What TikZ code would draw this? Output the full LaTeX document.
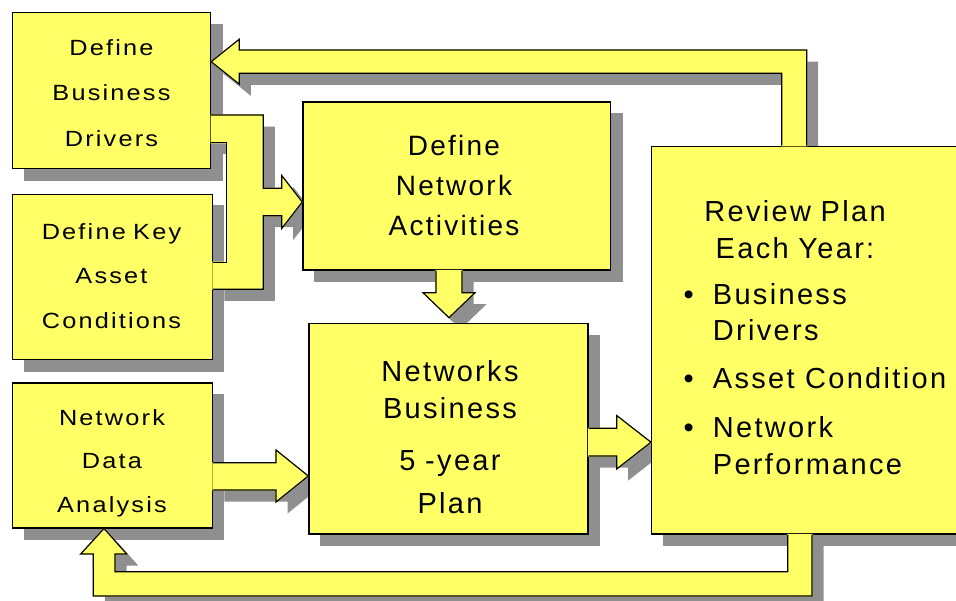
\documentclass[tikz,border=0pt]{standalone}
\usepackage{fontspec}
\setmainfont{Liberation Sans}
\newfontfamily\smallboxfont[LetterSpace=10,FakeStretch=1.15]{Liberation Sans}
\newfontfamily\bigboxfont[LetterSpace=8]{Liberation Sans}

\pgfdeclarelayer{shadows}
\pgfsetlayers{shadows,main}

\definecolor{padyellow}{HTML}{FFFF66}
\definecolor{padshadow}{HTML}{8F8F8F}

\tikzset{
  box/.style={draw=black, line width=1.2pt, fill=padyellow, anchor=north west,
    inner sep=0pt},
  outline/.style={draw=black, line width=1.2pt, line join=miter},
  smalltext/.style={font={\smallboxfont\fontsize{22}{#1}\selectfont},
    align=center, text width=196pt, inner sep=0pt, anchor=base},
  bigtext/.style={font={\bigboxfont\fontsize{28}{#1}\selectfont},
    align=center, text width=300pt, inner sep=0pt, anchor=base},
  hugetext/.style={font={\bigboxfont\fontsize{29}{#1}\selectfont},
    align=center, text width=280pt, inner sep=0pt, anchor=base},
  dropshift/.style={transform canvas={shift={(11.5pt,-11.5pt)}}},
}

% block arrow: #1 is the stroked outline, #2 closes the filled area
\newcommand\blockarrow[2]{%
  \begin{pgfonlayer}{shadows}
    \fill[padshadow, dropshift] #1 #2 -- cycle;
  \end{pgfonlayer}
  \fill[padyellow, draw=padyellow, line width=1.2pt] #1 #2 -- cycle;
  \draw[outline] #1;
}

\begin{document}
\begin{tikzpicture}[x=1pt,y=-1pt]
\useasboundingbox (0,0) rectangle (956,600);
\clip (0,0) rectangle (956,600);

% boxes
\node[box, minimum width=198pt, minimum height=156pt] (bd) at (12,12) {};
\node[box, minimum width=199.7pt, minimum height=165.5pt] (ak) at (12,193.5) {};
\node[box, minimum width=199.7pt, minimum height=145pt] (na) at (12,382.3) {};
\node[box, minimum width=307.7pt, minimum height=168pt] (da) at (302.3,101.3) {};
\node[box, minimum width=279pt, minimum height=210.3pt] (bp) at (308.3,323) {};
\node[box, minimum width=330pt, minimum height=387.6pt] (rv) at (651,145.7) {};

% box shadows
\begin{pgfonlayer}{shadows}
  \foreach \n in {bd,ak,na,da,bp,rv}
    \fill[padshadow, dropshift] (\n.south west) rectangle (\n.north east);
\end{pgfonlayer}

% feedback from the review to the business drivers
\blockarrow{(rv.north -| 781.7,0) -- (781.7,73.3) -- (239.3,73.3) -- (239.3,84.2)
  -- (bd.east |- 0,61.7) -- (239.3,39.2) -- (239.3,50) -- (806.7,50)
  -- (rv.north -| 806.7,0)}{}

% drivers and asset conditions feed the network activities
\blockarrow{(bd.east |- 0,115) -- (263.3,115) -- (263.3,188.3) -- (281.7,188.3)
  -- (281.7,175.5) -- (da.west |- 0,202) -- (281.7,228.5) -- (281.7,215.7)
  -- (263.3,215.7) -- (263.3,289.3) -- (ak.east |- 0,289.3)}
  {-- (ak.east |- 0,262.3) -- (226.7,262.3) -- (226.7,142.7) -- (bd.east |- 0,142.7)}
\draw[outline] (ak.east |- 0,262.3) -- (226.7,262.3) -- (226.7,142.7)
  -- (bd.east |- 0,142.7);

% activities down into the plan
\blockarrow{(da.south -| 436,0) -- (436,292.7) -- (423,292.7) -- (449,317.7)
  -- (475,292.7) -- (462,292.7) -- (da.south -| 462,0)}{}

% data analysis into the plan
\blockarrow{(na.east |- 0,462.7) -- (276,462.7) -- (276,450) -- (bp.west |- 0,476)
  -- (276,502) -- (276,490) -- (na.east |- 0,490)}{}

% plan into the yearly review
\blockarrow{(bp.east |- 0,428.3) -- (616.7,428.3) -- (616.7,415.5)
  -- (rv.west |- 0,442.2) -- (616.7,469) -- (616.7,456) -- (bp.east |- 0,456)}{}

% feedback from the review to the data analysis
\blockarrow{(rv.south -| 812,0) -- (812,596) -- (93.3,596) -- (93.3,554)
  -- (80.7,554) -- (na.south -| 104,0) -- (126.7,554) -- (115,554)
  -- (115,571.7) -- (787.7,571.7) -- (rv.south -| 787.7,0)}{}

% box texts
\node[smalltext=45.8pt] (bd-t) at (111.5,55) {Define\\Business\\Drivers};
\node[smalltext=44.6pt] (ak-t) at (111.5,239) {Define Key\\Asset\\Conditions};
\node[smalltext=43.8pt] (na-t) at (112,425) {Network\\Data\\Analysis};
\node[bigtext=40pt] (da-t) at (454,155) {Define\\Network\\Activities};
\node[hugetext=37pt] (bp-t) at (450,381)
  {Networks\\Business\\[15pt]5 -year\\[6pt]Plan};
\node[hugetext=37pt] (rv-t) at (795,221) {Review Plan\\Each Year:};
\node[font={\bigboxfont\fontsize{29}{36}\selectfont}, inner sep=0pt,
  anchor=base west] (rv-l) at (683.5,304)
  {\begin{tabular}[t]{@{}l@{}l@{}}
    \makebox[29.2pt][l]{\textbullet} & Business\\
    & Drivers\\[12pt]
    \makebox[29.2pt][l]{\textbullet} & Asset Condition\\[13pt]
    \makebox[29.2pt][l]{\textbullet} & Network\\[1pt]
    & Performance
  \end{tabular}};
\end{tikzpicture}
\end{document}
